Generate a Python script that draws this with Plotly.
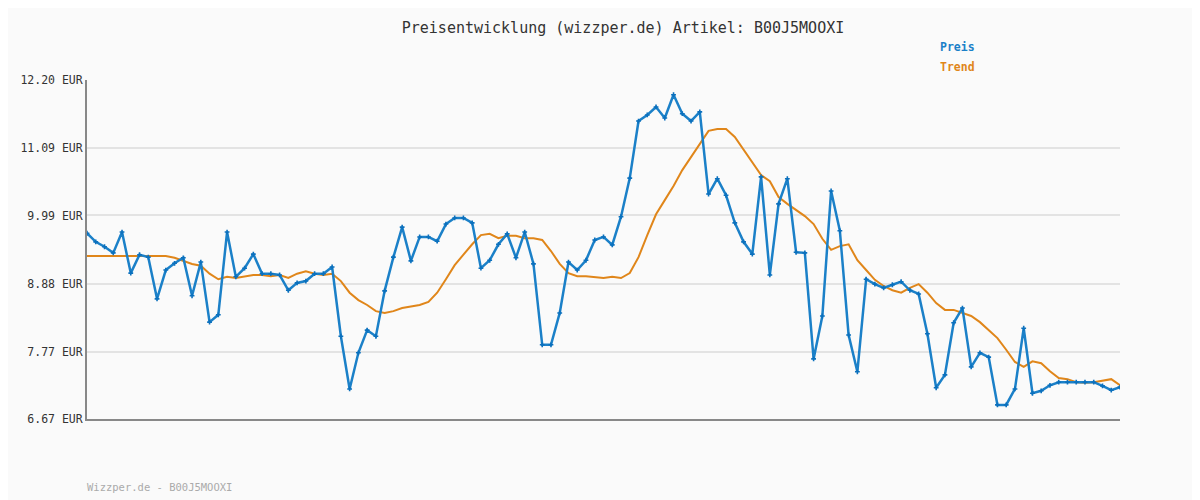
import plotly.graph_objects as go

price = [9.70,9.56,9.48,9.38,9.72,9.05,9.35,9.31,8.63,9.10,
         9.21,9.30,8.68,9.23,8.25,8.37,9.72,8.99,9.13,9.36,
         9.04,9.04,9.02,8.77,8.89,8.92,9.04,9.04,9.15,8.02,
         7.16,7.75,8.12,8.02,8.76,9.31,9.80,9.25,9.64,9.64,
         9.57,9.85,9.95,9.95,9.87,9.13,9.26,9.52,9.69,9.30,
         9.72,9.20,7.88,7.88,8.40,9.23,9.10,9.26,9.59,9.64,
         9.51,9.97,10.60,11.53,11.63,11.76,11.58,11.96,11.65,11.53,
         11.68,10.34,10.59,10.32,9.87,9.56,9.36,10.62,9.02,10.18,
         10.59,9.39,9.38,7.65,8.35,10.39,9.74,8.04,7.44,8.95,
         8.87,8.81,8.86,8.91,8.77,8.71,8.06,7.18,7.39,8.24,
         8.48,7.52,7.75,7.68,6.90,6.90,7.16,8.15,7.09,7.13,
         7.22,7.27,7.27,7.27,7.27,7.27,7.21,7.14,7.19]
trend = [9.33]*10 + [9.30,9.25,9.20,9.17,9.04,8.95,8.99,8.97,9.00,9.02,
         9.02,9.00,9.02,8.97,9.04,9.08,9.04,9.02,9.04,8.92,
         8.73,8.61,8.53,8.43,8.40,8.43,8.48,8.51,8.53,8.58,
         8.73,8.95,9.18,9.35,9.52,9.67,9.69,9.62,9.66,9.66,
         9.62,9.62,9.59,9.41,9.20,9.05,9.00,9.00,8.99,8.97,
         8.99,8.97,9.05,9.31,9.67,10.01,10.24,10.47,10.73,10.94,
         11.16,11.37,11.40,11.40,11.27,11.07,10.86,10.65,10.55,10.29,
         10.18,10.08,9.98,9.85,9.61,9.43,9.49,9.52,9.26,9.10,
         8.94,8.84,8.77,8.73,8.81,8.87,8.73,8.56,8.45,8.45,
         8.40,8.35,8.25,8.12,7.99,7.80,7.60,7.52,7.61,7.58,
         7.45,7.34,7.32,7.27,7.26,7.27,7.30,7.32,7.22]
yticks = [6.67, 7.77, 8.88, 9.99, 11.09, 12.20]
ytick_text = ["6.67 EUR", "7.77 EUR", "8.88 EUR", "9.99 EUR", "11.09 EUR", "12.20 EUR"]
title = "Preisentwicklung (wizzper.de) Artikel: B00J5MOOXI"
footer = "Wizzper.de - B00J5MOOXI"

BLUE = "#1b80c8"
ORANGE = "#e0861a"
FONT = "DejaVu Sans Mono"
x = list(range(len(price)))

fig = go.Figure()
fig.add_trace(go.Scatter(x=x, y=trend, mode="lines", line=dict(color=ORANGE, width=2), name="Trend"))
fig.add_trace(go.Scatter(x=x, y=price, mode="lines+markers", line=dict(color=BLUE, width=2.5),
                         marker=dict(symbol="cross", size=4, color="#0b70bd"), name="Preis"))
fig.update_layout(
    width=1200, height=500, showlegend=False,
    paper_bgcolor="#fafafa", plot_bgcolor="#fafafa",
    margin=dict(l=72, r=88, t=72, b=89),
    font=dict(family=FONT, size=11.5, color="#333"),
    title=dict(text=title, x=(623 - 8) / 1200, xanchor="center", y=1 - 20 / 500, yanchor="middle",
               font=dict(family=FONT, size=15, color="#333")),
    xaxis=dict(range=[0, len(price) - 1], showgrid=False, showticklabels=False, zeroline=False,
               showline=True, linecolor="#888", linewidth=2),
    yaxis=dict(range=[6.67, 12.20], tickvals=yticks, ticktext=ytick_text, showgrid=True,
               gridcolor="#e3e3e3", gridwidth=2, zeroline=False, showline=True,
               linecolor="#888", linewidth=2, ticks="", tickfont=dict(family=FONT, size=11.5, color="#333")),
)
def px_to_paper(px, py):
    return (px - 80) / 1040, (419 - py) / 339
for txt, col, py in [("Preis", BLUE, 47), ("Trend", ORANGE, 67)]:
    xp, yp = px_to_paper(939, py)
    fig.add_annotation(text=f"<b>{txt}</b>", x=xp, y=yp, xref="paper", yref="paper", showarrow=False,
                       xanchor="left", yanchor="middle", xshift=-2,
                       font=dict(color=col, size=11.5, family=FONT))
xp, yp = px_to_paper(80, 487)
fig.add_annotation(text=footer, x=xp, y=yp, xref="paper", yref="paper", showarrow=False, xshift=-2,
                   xanchor="left", yanchor="middle", font=dict(color="#aaa", size=10.5, family=FONT))
fig.write_html("out.html")
